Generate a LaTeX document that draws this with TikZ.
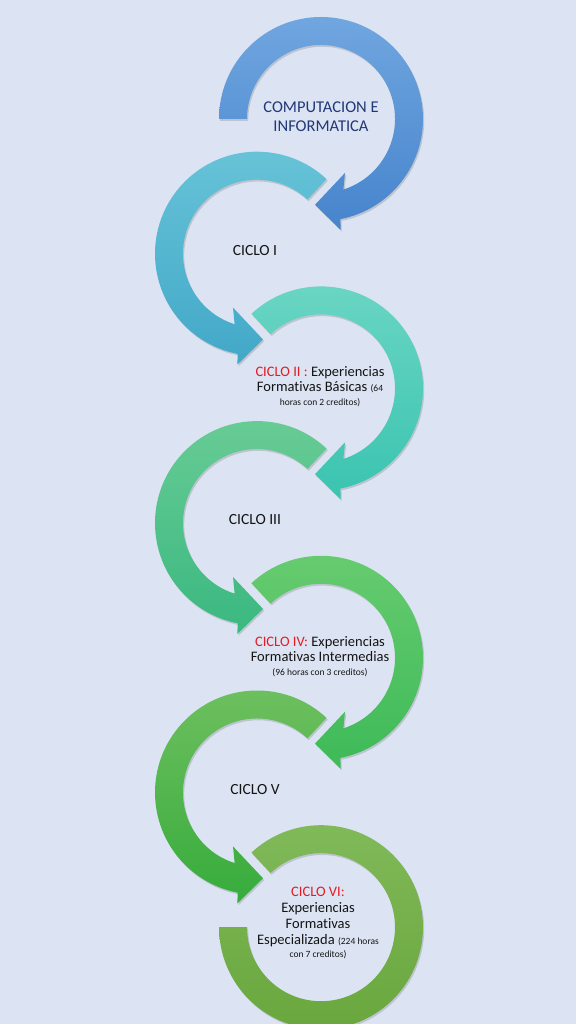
\documentclass[tikz,border=0pt]{standalone}
\usepackage{fontspec}
\setmainfont{Carlito}[Ligatures=NoCommon]
\usetikzlibrary{shadows}
\definecolor{bg}{RGB}{220,228,243}
\definecolor{navy}{RGB}{32,56,120}
\definecolor{cred}{RGB}{228,28,36}
\definecolor{txt}{RGB}{20,20,20}
\definecolor{aT}{RGB}{112,166,224}\definecolor{aB}{RGB}{70,132,204}
\definecolor{bT}{RGB}{104,196,216}\definecolor{bB}{RGB}{66,168,200}
\definecolor{cT}{RGB}{108,214,196}\definecolor{cB}{RGB}{58,196,176}
\definecolor{dT}{RGB}{106,204,150}\definecolor{dB}{RGB}{58,184,128}
\definecolor{eT}{RGB}{104,204,112}\definecolor{eB}{RGB}{62,186,88}
\definecolor{fT}{RGB}{112,192,96}\definecolor{fB}{RGB}{54,172,60}
\definecolor{gT}{RGB}{130,186,90}\definecolor{gB}{RGB}{104,166,60}
\tikzset{
  arcshape/.style 2 args={top color=#1, bottom color=#2,
    drop shadow={shadow xshift=1.2pt, shadow yshift=-1.8pt, opacity=0.25, fill=black!60}},
  lbl/.style={align=center, text=txt, inner sep=0pt},
}
\newcommand{\smalltxt}{\fontsize{9.5}{11}\selectfont}
\newcommand{\RightArrowArc}[4]{% center, tail angle, top, bottom
  \begin{scope}[shift={(#1)}]
    \path[arcshape={#3}{#4}] (#2:102) arc[start angle=#2, end angle=-79, radius=102]
      -- (-80:112.5) -- (-94:86) -- (-66:59) -- (-72.4:74)
      arc[start angle=-72.4, end angle=#2, radius=74] -- cycle;
  \end{scope}}
\newcommand{\LeftArrowArc}[4]{%
  \begin{scope}[shift={(#1)}]
    \path[arcshape={#3}{#4}] (#2:102) arc[start angle=#2, end angle=259, radius=102]
      -- (260:112.5) -- (274:86) -- (246:59) -- (252.4:74)
      arc[start angle=252.4, end angle=#2, radius=74] -- cycle;
  \end{scope}}
\begin{document}
\begin{tikzpicture}[x=1pt,y=1pt]
  \fill[bg] (0,0) rectangle (576,1024);
  \useasboundingbox (0,0) rectangle (576,1024);
  \coordinate (c1) at (321,905);
  \coordinate (c2) at (257,770.3);
  \coordinate (c3) at (321,635.6);
  \coordinate (c4) at (257,500.9);
  \coordinate (c5) at (321,366.2);
  \coordinate (c6) at (257,231.5);
  \coordinate (c7) at (321,96.8);
  \RightArrowArc{c1}{180}{aT}{aB}
  \LeftArrowArc{c2}{47}{bT}{bB}
  \RightArrowArc{c3}{133}{cT}{cB}
  \LeftArrowArc{c4}{47}{dT}{dB}
  \RightArrowArc{c5}{133}{eT}{eB}
  \LeftArrowArc{c6}{47}{fT}{fB}
  \begin{scope}[shift={(c7)}]
    \path[arcshape={gT}{gB}] (133:102) arc[start angle=133, end angle=-180, radius=102]
      -- (-180:74) arc[start angle=-180, end angle=133, radius=74] -- cycle;
  \end{scope}
  \node[lbl, text=navy, font=\fontsize{16.5}{19}\selectfont] (t1) at (321,907)
    {COMPUTACION E\\INFORMATICA};
  \node[lbl, font=\fontsize{15.5}{17}\selectfont] (t2) at (255,773) {CICLO I};
  \node[lbl, font=\fontsize{14.5}{15}\selectfont] (t3) at (320,637)
    {\textcolor{cred}{CICLO II :} Experiencias\\
     Formativas Básicas {\smalltxt(64}\\[-1pt]
     {\smalltxt horas con 2 creditos)}};
  \node[lbl, font=\fontsize{15.5}{17}\selectfont] (t4) at (255,504) {CICLO III};
  \node[lbl, font=\fontsize{14.5}{15}\selectfont] (t5) at (320,367)
    {\textcolor{cred}{CICLO IV:} Experiencias\\
     Formativas Intermedias\\[-1pt]
     {\smalltxt(96 horas con 3 creditos)}};
  \node[lbl, font=\fontsize{15.5}{17}\selectfont] (t6) at (255,234) {CICLO V};
  \node[lbl, font=\fontsize{14.5}{16}\selectfont] (t7) at (318,101)
    {\textcolor{cred}{CICLO VI:}\\
     Experiencias\\
     Formativas\\
     Especializada {\smalltxt(224 horas}\\[-3pt]
     {\smalltxt con 7 creditos)}};
\end{tikzpicture}
\end{document}
